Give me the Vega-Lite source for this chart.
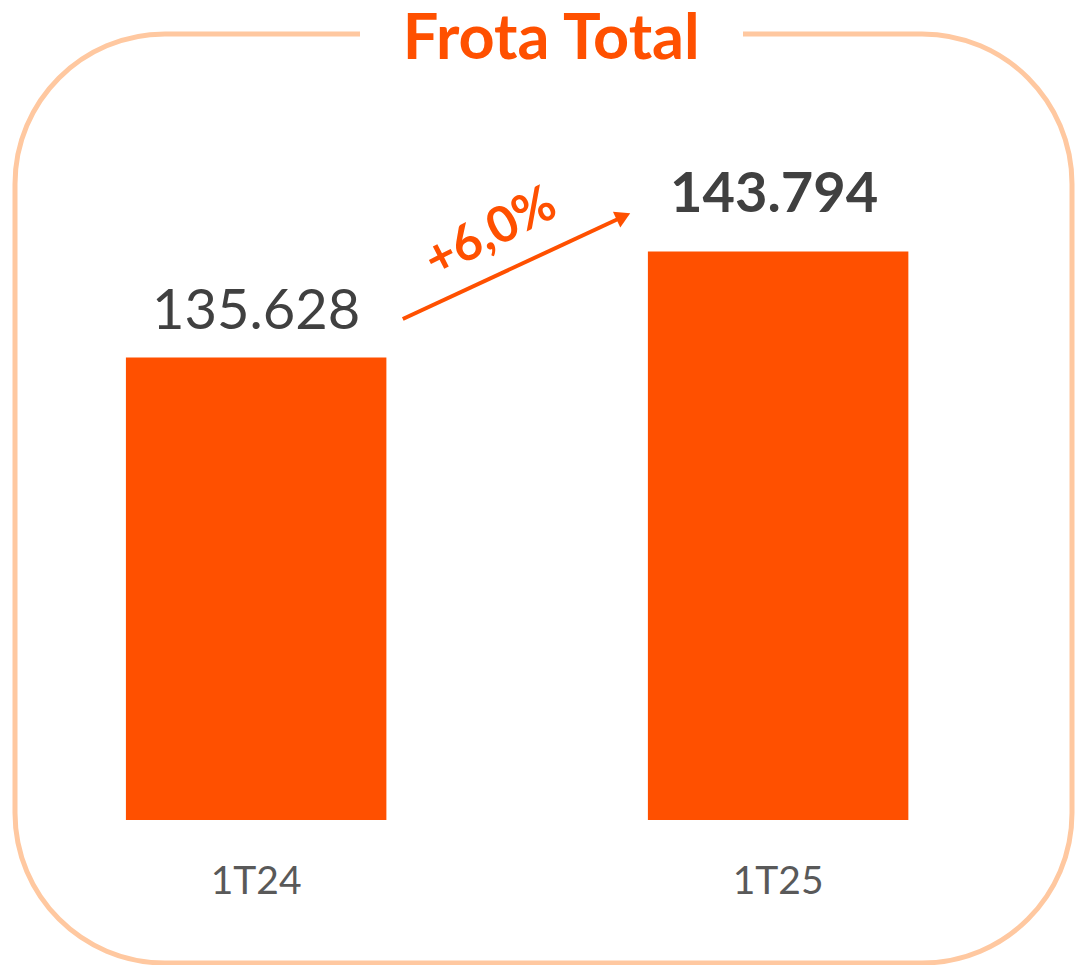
{
  "$schema": "https://vega.github.io/schema/vega-lite/v6.json",
  "width": 1057,
  "height": 929,
  "autosize": "none",
  "padding": {"left": 15, "top": 34, "right": 4, "bottom": 2},
  "background": "white",
  "config": {
    "font": "Lato",
    "locale": {"number": {"decimal": ",", "thousands": ".", "grouping": [3], "currency": ["R$", ""]}},
    "view": {"stroke": "#FFC8A0", "strokeWidth": 5, "cornerRadius": 150, "strokeDash": [195, 383, 5000]}
  },
  "data": {
    "values": [
      {"periodo": "1T24", "frota": 135628},
      {"periodo": "1T25", "frota": 143794}
    ]
  },
  "layer": [
    {
      "mark": {"type": "bar", "color": "#FF5000"},
      "encoding": {
        "x": {
          "field": "periodo",
          "type": "nominal",
          "sort": null,
          "scale": {"paddingInner": 0.501, "paddingOuter": 0.263, "align": 0.404},
          "axis": {
            "title": null,
            "domain": false,
            "ticks": false,
            "tickSize": 0,
            "labelAngle": 0,
            "labelPadding": 0,
            "offset": -70,
            "labelBaseline": "alphabetic",
            "labelFont": "Lato",
            "labelFontSize": 39,
            "labelColor": "#595959",
            "grid": false
          }
        },
        "y": {
          "field": "frota",
          "type": "quantitative",
          "scale": {"domain": [88980, 160560], "nice": false, "zero": false},
          "axis": null
        },
        "y2": {"datum": 100000}
      }
    },
    {
      "transform": [{"filter": "datum.periodo === '1T24'"}],
      "mark": {"type": "text", "font": "Lato", "fontSize": 56, "color": "#404040", "baseline": "alphabetic", "dy": -29},
      "encoding": {
        "x": {"field": "periodo", "type": "nominal"},
        "y": {"field": "frota", "type": "quantitative"},
        "text": {"field": "frota", "type": "quantitative", "format": ",.0f"}
      }
    },
    {
      "transform": [{"filter": "datum.periodo === '1T25'"}],
      "mark": {"type": "text", "font": "Lato", "fontSize": 56, "fontWeight": "bold", "color": "#404040", "baseline": "alphabetic", "dy": -40, "dx": -4},
      "encoding": {
        "x": {"field": "periodo", "type": "nominal"},
        "y": {"field": "frota", "type": "quantitative"},
        "text": {"field": "frota", "type": "quantitative", "format": ",.0f"}
      }
    },
    {
      "data": {"values": [{}]},
      "mark": {"type": "rule", "color": "#FF5000", "strokeWidth": 4},
      "encoding": {
        "x": {"datum": "1T24", "type": "nominal", "bandPosition": 1.063},
        "x2": {"datum": "1T25", "bandPosition": -0.094},
        "y": {"datum": 138598, "type": "quantitative"},
        "y2": {"datum": 146495}
      }
    },
    {
      "data": {"values": [{}]},
      "mark": {"type": "point", "shape": "triangle-right", "filled": true, "opacity": 1, "size": 300, "angle": 335, "color": "#FF5000"},
      "encoding": {
        "x": {"datum": "1T25", "type": "nominal", "bandPosition": -0.094},
        "y": {"datum": 146495, "type": "quantitative"}
      }
    },
    {
      "data": {"values": [{}]},
      "mark": {"type": "text", "text": "+6,0%", "font": "Lato", "fontSize": 50, "fontWeight": "bold", "color": "#FF5000", "angle": 333, "align": "center", "baseline": "middle"},
      "encoding": {
        "x": {"datum": "1T24", "type": "nominal", "bandPosition": 1.401},
        "y": {"datum": 145223, "type": "quantitative"}
      }
    },
    {
      "data": {"values": [{}]},
      "mark": {"type": "text", "text": "Frota Total", "font": "Lato", "fontSize": 63, "fontWeight": "bold", "color": "#FF5000", "align": "center", "baseline": "alphabetic"},
      "encoding": {
        "x": {"datum": "1T24", "type": "nominal", "bandPosition": 1.633},
        "y": {"datum": 158628, "type": "quantitative"}
      }
    }
  ]
}
